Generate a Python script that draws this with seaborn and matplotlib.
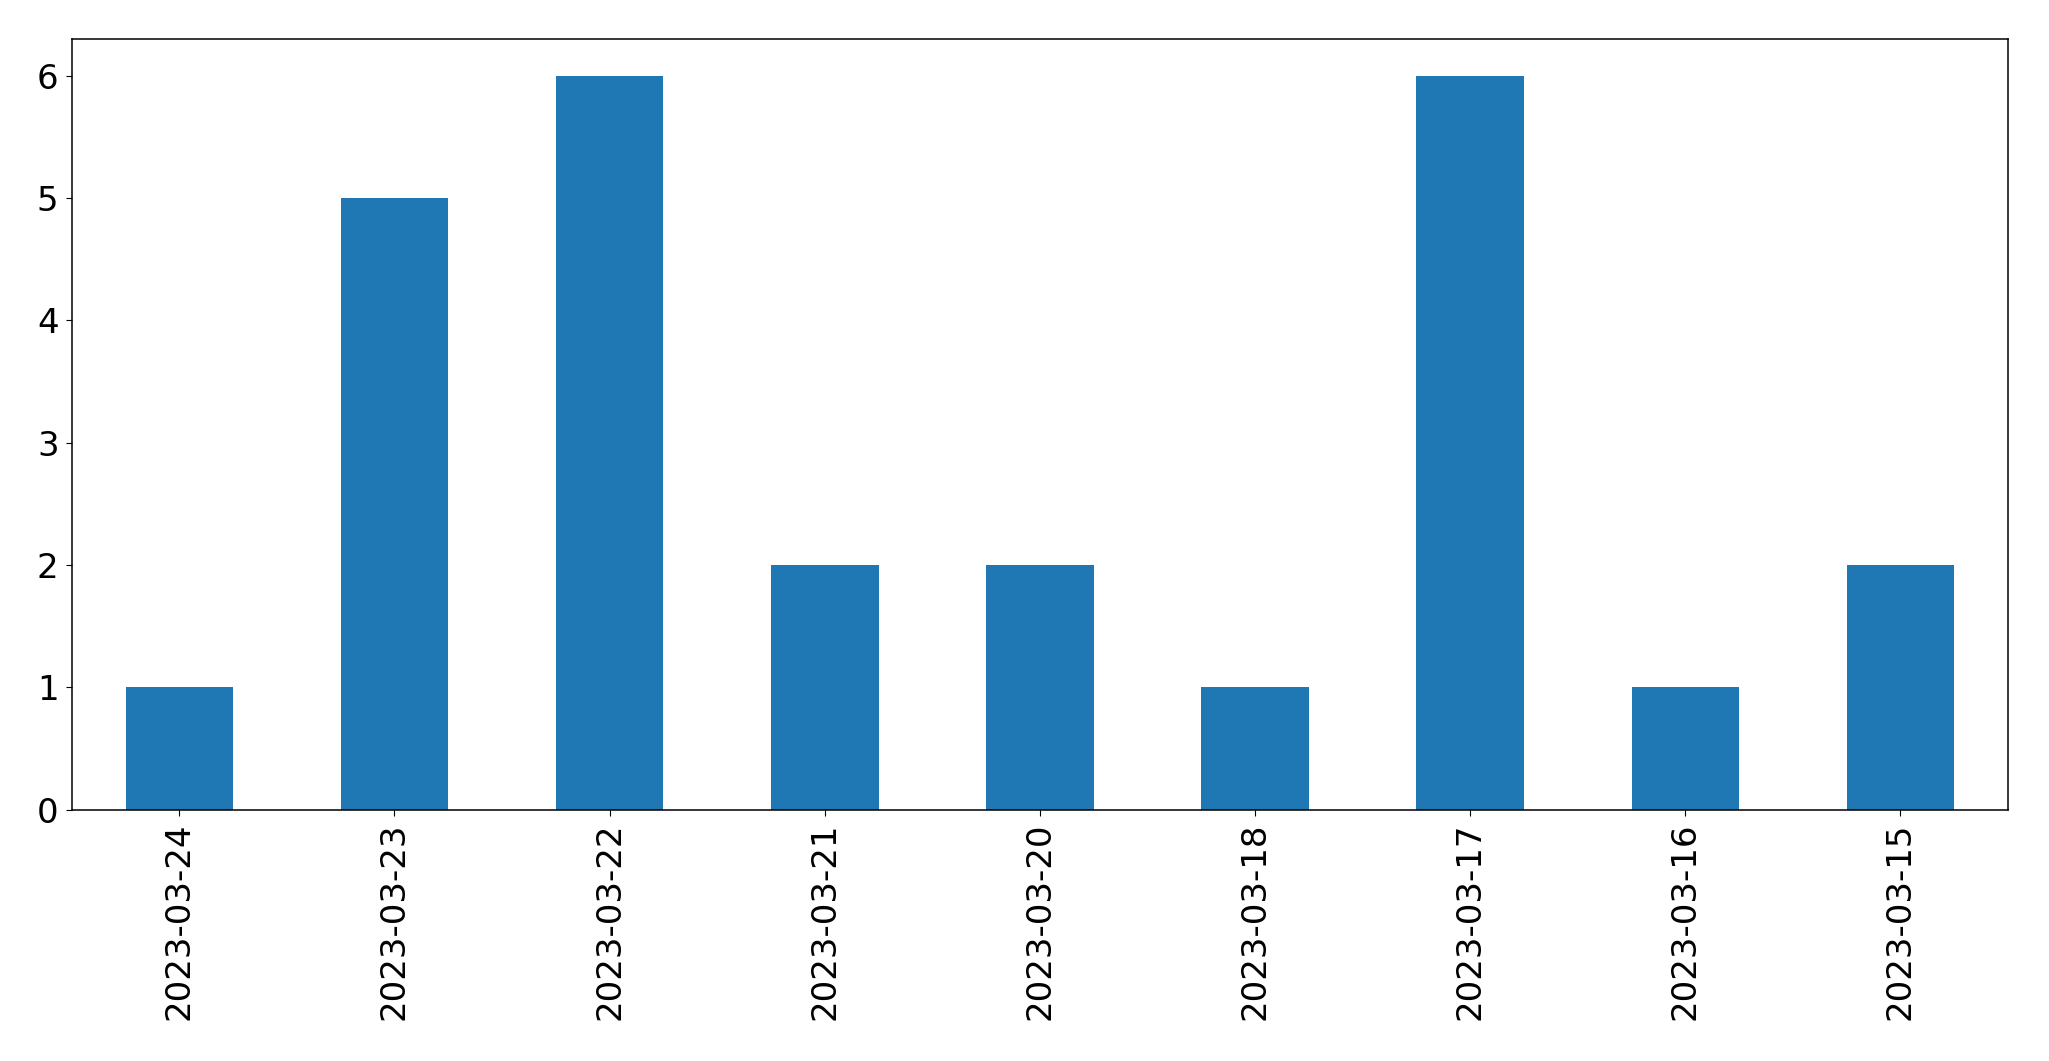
import matplotlib
matplotlib.use("Agg")
import matplotlib.pyplot as plt
import seaborn as sns
import pandas as pd

dates = ["2023-03-24", "2023-03-23", "2023-03-22", "2023-03-21", "2023-03-20",
         "2023-03-18", "2023-03-17", "2023-03-16", "2023-03-15"]
counts = [1, 5, 6, 2, 2, 1, 6, 1, 2]

df = pd.DataFrame({"date": dates, "count": counts})

fig, ax = plt.subplots(figsize=(20.49, 10.61), dpi=100)
sns.barplot(data=df, x="date", y="count", color="#1f77b4", saturation=1,
            width=0.5, ax=ax, order=dates, linewidth=0)
ax.set_xlabel("")
ax.set_ylabel("")
ax.set_xlim(-0.5, len(dates) - 0.5)
ax.set_ylim(0, 6.3)
ax.tick_params(axis="both", labelsize=24.5, length=4.5, pad=5)
for s in ax.spines.values():
    s.set_linewidth(1.1)
plt.setp(ax.get_xticklabels(), rotation=90)
fig.subplots_adjust(left=0.035, right=0.98, top=0.963, bottom=0.237)
fig.savefig("out.png", dpi=100)
